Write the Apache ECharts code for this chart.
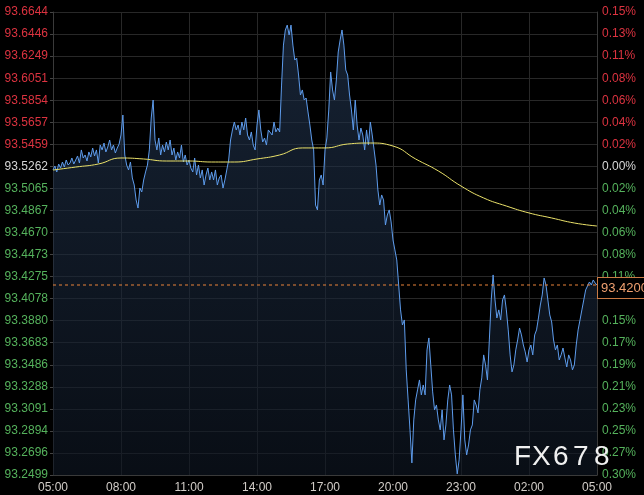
<!DOCTYPE html>
<html>
<head>
<meta charset="utf-8">
<script src="https://cdn.jsdelivr.net/npm/echarts@6/dist/echarts.min.js"></script>
<style>
html,body{margin:0;padding:0;background:#000;}
#chart{width:644px;height:495px;}
</style>
</head>
<body>
<div id="chart"></div>
<script>
// ---- data ----
const startMinute = 5 * 60;       // 05:00
const stepMinutes = 5;
const timeTickLabels = ['05:00','08:00','11:00','14:00','17:00','20:00','23:00','02:00','05:00'];
const basePrice = 93.5262;
const lastPrice = 93.4200;
const yMin = 93.2499;
const yMax = 93.6644;
const leftTicks = [93.6644,93.6446,93.6249,93.6051,93.5854,93.5657,93.5459,93.5262,93.5065,93.4867,93.4670,
  93.4473,93.4275,93.4078,93.3880,93.3683,93.3486,93.3288,93.3091,93.2894,93.2696,93.2499];
const rightTickLabels = ['0.15%','0.13%','0.11%','0.08%','0.06%','0.04%','0.02%','0.00%','0.02%','0.04%','0.06%',
  '0.08%','0.11%','0.13%','0.15%','0.17%','0.19%','0.21%','0.23%','0.25%','0.27%','0.30%'];
const watermark = 'FX678';

// price, every 5 minutes from 05:00 to 05:00 next day
const price = [
  93.5230,93.5265,93.5212,93.5283,93.5247,93.5301,93.5256,93.5319,93.5274,93.5292,93.5337,93.5283,
  93.5319,93.5355,93.5292,93.5409,93.5337,93.5364,93.5310,93.5391,93.5346,93.5426,93.5355,93.5409,
  93.5292,93.5453,93.5409,93.5471,93.5391,93.5435,93.5498,93.5409,93.5453,93.5382,93.5426,93.5462,
  93.5543,93.5722,93.5364,93.5274,93.5230,93.5301,93.5158,93.5095,93.4961,93.4889,93.5068,93.5033,
  93.5140,93.5212,93.5274,93.5409,93.5695,93.5856,93.5498,93.5409,93.5516,93.5364,93.5453,93.5391,
  93.5480,93.5409,93.5498,93.5364,93.5426,93.5319,93.5391,93.5337,93.5453,93.5301,93.5364,93.5274,
  93.5319,93.5247,93.5212,93.5337,93.5185,93.5274,93.5158,93.5230,93.5095,93.5185,93.5247,93.5140,
  93.5212,93.5140,93.5230,93.5095,93.5158,93.5185,93.5068,93.5140,93.5230,93.5319,93.5498,93.5588,
  93.5659,93.5588,93.5632,93.5543,93.5659,93.5588,93.5695,93.5543,93.5498,93.5570,93.5453,93.5409,
  93.5632,93.5767,93.5588,93.5480,93.5516,93.5453,93.5588,93.5605,93.5543,93.5659,93.5570,93.5605,
  93.5570,93.5990,93.6348,93.6483,93.6527,93.6438,93.6527,93.6348,93.6214,93.6232,93.6080,93.5901,
  93.5946,93.5856,93.5874,93.5749,93.5632,93.5498,93.5409,93.4916,93.4872,93.5140,93.5185,93.5095,
  93.5409,93.5516,93.5767,93.6107,93.5946,93.5856,93.6035,93.6286,93.6393,93.6483,93.6348,93.6125,
  93.6080,93.5901,93.5767,93.5588,93.5856,93.5632,93.5498,93.5605,93.5543,93.5409,93.5588,93.5453,
  93.5659,93.5543,93.5409,93.5274,93.5051,93.4916,93.5006,93.4961,93.4737,93.4827,93.4872,93.4764,
  93.4603,93.4514,93.4424,93.4200,93.3977,93.3842,93.3887,93.3440,93.3171,93.2903,93.2607,93.2992,
  93.3171,93.3261,93.3350,93.3216,93.3305,93.3216,93.3619,93.3726,93.3484,93.3243,93.3082,93.3126,
  93.2992,93.2903,93.3082,93.2813,93.2947,93.3171,93.3305,93.3216,93.2903,93.2679,93.2509,93.2634,
  93.2903,93.3216,93.2813,93.2679,93.2768,93.2903,93.2947,93.3171,93.3126,93.3055,93.3261,93.3368,
  93.3574,93.3484,93.3350,93.3708,93.4066,93.4290,93.4066,93.3905,93.3977,93.3887,93.4066,93.4111,
  93.3977,93.3798,93.3574,93.3422,93.3484,93.3619,93.3708,93.3815,93.3753,93.3663,93.3601,93.3511,
  93.3619,93.3663,93.3574,93.3753,93.3798,93.3905,93.4021,93.4111,93.4263,93.4200,93.4066,93.3932,
  93.3869,93.3708,93.3619,93.3663,93.3529,93.3574,93.3636,93.3547,93.3466,93.3574,93.3529,93.3440,
  93.3484,93.3663,93.3798,93.3887,93.3977,93.4066,93.4156,93.4173,93.4227,93.4200,93.4245,93.4218,93.4200
];

// moving average, hourly samples (every 12th point)
const maHourly = [93.5229,93.5256,93.5283,93.5337,93.5328,93.5310,93.5310,93.5301,93.5301,93.5328,93.5364,
  93.5427,93.5427,93.5462,93.5471,93.5444,93.5328,93.5221,93.5086,93.4979,93.4907,93.4845,93.4800,93.4755,93.4728];

// ---- build ----
const categories = price.map((_, i) => {
  const m = (startMinute + i * stepMinutes) % 1440;
  return String(Math.floor(m / 60)).padStart(2, '0') + ':' + String(m % 60).padStart(2, '0');
});
const labelEvery = 36;
const maData = maHourly.map((v, k) => [k * 12, v]);
const lastLineData = [[0, lastPrice], [price.length - 1, lastPrice]];
const dashColor = '#e8823a';

function colorFor(v) {
  v = Number(v);
  if (v > basePrice + 1e-6) return '#dc3340';
  if (v < basePrice - 1e-6) return '#55b25c';
  return '#d6d6d6';
}
function tickIndex(v) {
  v = Number(v);
  let best = 0, bd = Infinity;
  leftTicks.forEach((t, i) => { const d = Math.abs(t - v); if (d < bd) { bd = d; best = i; } });
  return best;
}
// the price tag on the right covers the percent label just below it
function hiddenByTag(v) {
  v = Number(v);
  return v < lastPrice && lastPrice - v < 0.015;
}

// watermark glyph placement (spaced letters)
const wmLeft = [514, 532, 553, 573, 594];
const wmGraphics = watermark.split('').map((ch, i) => ({
  type: 'text', left: wmLeft[i], top: 443, z: 100,
  style: {text: ch, fill: '#f0f0f0', font: '28px "Liberation Sans", Arial, sans-serif'}
}));

const chart = echarts.init(document.getElementById('chart'), null, {renderer: 'canvas'});
chart.setOption({
  animation: false,
  backgroundColor: '#000000',
  textStyle: {fontFamily: '"Liberation Sans", Arial, sans-serif'},
  grid: {left: 53, right: 47, top: 12, bottom: 20, containLabel: false},
  xAxis: {
    type: 'category',
    data: categories,
    boundaryGap: false,
    axisLine: {show: true, lineStyle: {color: '#3a3a3a'}},
    axisTick: {show: false},
    axisLabel: {
      interval: (idx) => idx % labelEvery === 0,
      formatter: (val, idx) => timeTickLabels[Math.round(idx / labelEvery)] || val,
      color: '#d2cdc8', fontSize: 12, margin: 7
    },
    splitLine: {show: true, interval: (idx) => idx % labelEvery === 0, lineStyle: {color: '#282828', width: 1}}
  },
  yAxis: [{
    type: 'value', position: 'left', min: yMin, max: yMax, scale: true,
    axisLine: {show: true, lineStyle: {color: '#3a3a3a'}},
    axisTick: {show: true, length: 3, customValues: leftTicks, lineStyle: {color: '#444'}},
    axisLabel: {
      customValues: leftTicks,
      formatter: (v) => Number(v).toFixed(4),
      color: (v) => colorFor(v),
      fontSize: 12, margin: 5
    },
    splitLine: {show: true, lineStyle: {color: '#282828', width: 1}}
  }, {
    type: 'value', position: 'right', min: yMin, max: yMax, scale: true,
    axisLine: {show: true, lineStyle: {color: '#3a3a3a'}},
    axisTick: {show: false, customValues: leftTicks},
    axisLabel: {
      customValues: leftTicks,
      formatter: (v) => hiddenByTag(v) ? '' : rightTickLabels[tickIndex(v)],
      color: (v) => colorFor(v),
      fontSize: 12, margin: 5
    },
    splitLine: {show: false}
  }],
  series: [{
    name: 'price', type: 'line', data: price, yAxisIndex: 0,
    symbol: 'none', lineStyle: {color: '#5e9cec', width: 1},
    areaStyle: {
      origin: 'start',
      color: new echarts.graphic.LinearGradient(0, 0, 0, 1, [
        {offset: 0, color: 'rgba(36,56,84,0.85)'},
        {offset: 1, color: 'rgba(14,22,34,0.9)'}
      ])
    },
    z: 3
  }, {
    name: 'ma', type: 'line', data: maData, yAxisIndex: 0, smooth: true,
    symbol: 'none', lineStyle: {color: '#ebe26a', width: 1}, z: 4
  }, {
    name: 'last', type: 'line', data: lastLineData, yAxisIndex: 0,
    symbol: 'none', silent: true, z: 5,
    itemStyle: {color: dashColor},
    lineStyle: {color: dashColor, type: [3, 3], width: 1},
    endLabel: {
      show: true, distance: 1,
      formatter: () => lastPrice.toFixed(4),
      color: '#f0a070', fontSize: 13,
      backgroundColor: '#000', borderColor: '#c97a45', borderWidth: 1,
      padding: [4, 4, 3, 3], offset: [0, 3]
    }
  }],
  graphic: wmGraphics
});
</script>
</body>
</html>
